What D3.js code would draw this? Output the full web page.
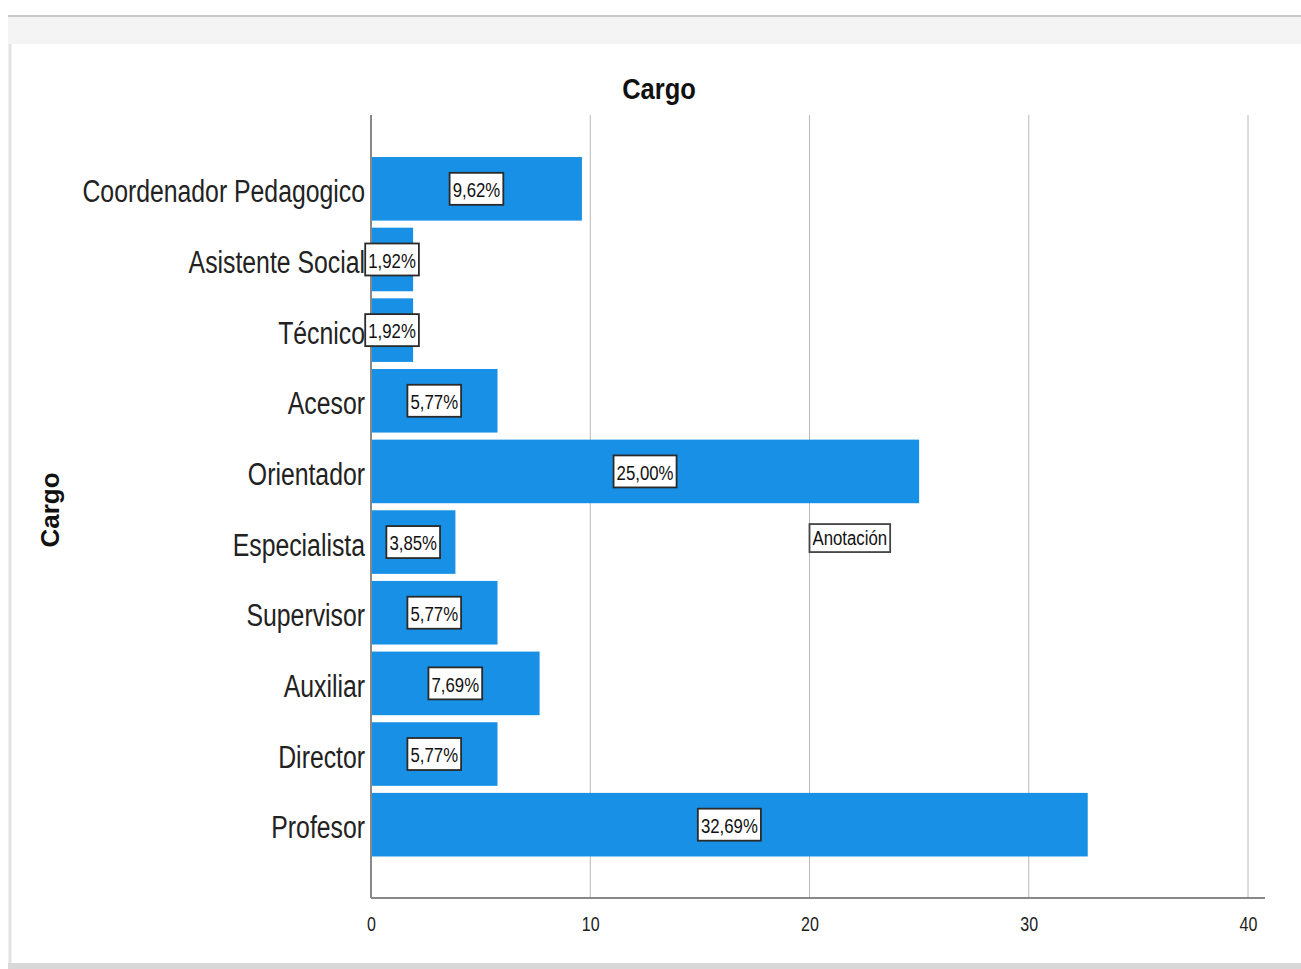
<!DOCTYPE html>
<html>
<head>
<meta charset="utf-8">
<script src="https://cdn.jsdelivr.net/npm/d3@7"></script>
<style>
  body { margin: 0; background: #fff; }
  svg text { font-family: "Liberation Sans", Arial, sans-serif; }
</style>
</head>
<body>
<svg id="chart" width="1301" height="969"></svg>
<script>
const categories = ["Coordenador Pedagogico", "Asistente Social", "Técnico", "Acesor", "Orientador",
    "Especialista", "Supervisor", "Auxiliar", "Director", "Profesor"]
const percents = [9.62, 1.92, 1.92, 5.77, 25.00, 3.85, 5.77, 7.69, 5.77, 32.69]
const percentLabels = ["9,62%", "1,92%", "1,92%", "5,77%", "25,00%", "3,85%", "5,77%", "7,69%", "5,77%", "32,69%"]
const xTicks = [0, 10, 20, 30, 40]

const NARROW = 0.8  // the original uses a condensed face, squeeze Liberation Sans instead

const svg = d3.select("#chart")

// frame around the output window
svg.append("rect").attr("x", 8).attr("y", 16).attr("width", 1293).attr("height", 28).attr("fill", "#f4f4f4")
svg.append("line").attr("x1", 8).attr("x2", 1301).attr("y1", 16).attr("y2", 16).attr("stroke", "#c8c8c8").attr("stroke-width", 2)
svg.append("line").attr("x1", 10).attr("x2", 10).attr("y1", 44).attr("y2", 969).attr("stroke", "#e2e2e2").attr("stroke-width", 3)
svg.append("rect").attr("x", 8).attr("y", 963).attr("width", 1293).attr("height", 6).attr("fill", "#d8d8d8")

const x = d3.scaleLinear().domain([0, 40]).range([371, 1248])
const y = d3.scaleBand().domain(categories).range([153.5, 860]).paddingInner(0.1).paddingOuter(0.05)

const plotTop = 115, plotBottom = 898

// narrow text helper
const narrowText = (parent, px, py, str, size, anchor) => parent.append("text")
    .attr("transform", `translate(${px},${py}) scale(${NARROW},1)`)
    .attr("text-anchor", anchor)
    .attr("dominant-baseline", "central")
    .attr("font-size", size)
    .attr("fill", "#111")
    .text(str)

// grid lines
svg.append("g")
    .selectAll("line")
    .data(xTicks.filter(d => d > 0))
    .enter()
    .append("line")
    .attr("x1", d => x(d)).attr("x2", d => x(d))
    .attr("y1", plotTop).attr("y2", plotBottom)
    .attr("stroke", "#b8b8b8")
    .attr("stroke-width", 1)

// bars
svg.append("g")
    .selectAll("rect")
    .data(percents)
    .enter()
    .append("rect")
    .attr("x", x(0))
    .attr("y", (d, i) => y(categories[i]))
    .attr("width", d => x(d) - x(0))
    .attr("height", y.bandwidth())
    .attr("fill", "#1790e5")

// axes
const xAxis = d3.axisBottom(x).tickValues(xTicks).tickSize(0).tickPadding(16)
const gx = svg.append("g").attr("transform", `translate(0,${plotBottom})`).call(xAxis)
gx.select(".domain").remove()
gx.selectAll("text")
    .attr("font-size", 20).attr("fill", "#222")
    .attr("y", 0).attr("dy", null)
    .attr("dominant-baseline", "central")
    .attr("transform", `translate(0,26) scale(${NARROW},1)`)
    .style("font-family", "'Liberation Sans', Arial, sans-serif")
svg.append("line").attr("x1", x(0)).attr("x2", 1265).attr("y1", plotBottom).attr("y2", plotBottom)
    .attr("stroke", "#888").attr("stroke-width", 2)

const yAxis = d3.axisLeft(y).tickSize(0).tickPadding(7)
const gy = svg.append("g").attr("transform", `translate(${x(0)},0)`).call(yAxis)
gy.select(".domain").remove()
gy.selectAll("text")
    .attr("font-size", 31).attr("fill", "#222")
    .attr("x", 0).attr("dy", null)
    .attr("dominant-baseline", "central")
    .attr("transform", `translate(-6,3) scale(${NARROW},1)`)
    .style("font-family", "'Liberation Sans', Arial, sans-serif")
svg.append("line").attr("x1", x(0)).attr("x2", x(0)).attr("y1", plotTop).attr("y2", plotBottom)
    .attr("stroke", "#888").attr("stroke-width", 2)

// value labels in boxes
const drawBoxLabel = (cx, cy, text, size) => {
    const g = svg.append("g")
    const t = narrowText(g, cx, cy + 1, text, size, "middle")
    const w = t.node().getBBox().width * NARROW
    g.insert("rect", "text")
        .attr("x", cx - w / 2 - 3).attr("y", cy - 16)
        .attr("width", w + 6).attr("height", 32)
        .attr("fill", "#fff")
        .attr("stroke", "#2a2a2a")
        .attr("stroke-width", 1.8)
    return g
}

percents.forEach((d, i) => {
    drawBoxLabel(x(d / 2), y(categories[i]) + y.bandwidth() / 2, percentLabels[i], 21)
})

// annotation box
const anno = svg.append("g")
const ay = y("Especialista") + y.bandwidth() / 2 - 4
const at = narrowText(anno, x(20) + 3, ay, "Anotación", 21, "start")
const aw = at.node().getBBox().width * NARROW
anno.insert("rect", "text")
    .attr("x", x(20)).attr("y", ay - 14)
    .attr("width", aw + 6).attr("height", 28)
    .attr("fill", "#fff").attr("stroke", "#444").attr("stroke-width", 1.8)

// titles
svg.append("text")
    .attr("transform", `translate(659,89) scale(0.85,1)`)
    .attr("text-anchor", "middle")
    .attr("dominant-baseline", "central")
    .attr("font-size", 30).attr("font-weight", "bold").attr("fill", "#111")
    .text("Cargo")

svg.append("text")
    .attr("transform", "translate(50,510) rotate(-90)")
    .attr("text-anchor", "middle")
    .attr("dominant-baseline", "central")
    .attr("font-size", 26).attr("font-weight", "bold").attr("fill", "#111")
    .text("Cargo")
</script>
</body>
</html>
